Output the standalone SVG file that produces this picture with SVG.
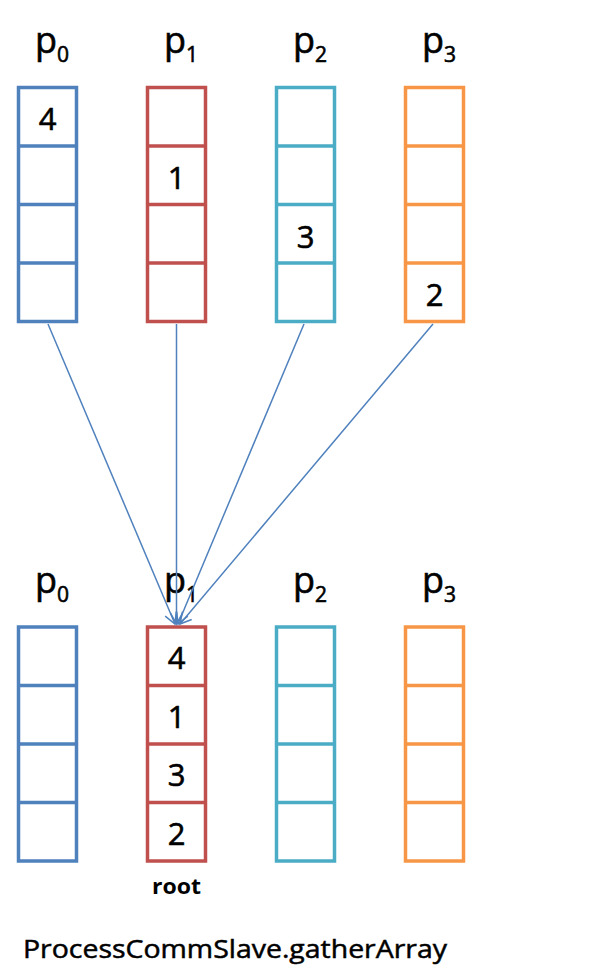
<svg xmlns="http://www.w3.org/2000/svg" width="605" height="976" viewBox="0 0 605 976">
<defs>
<style>
.lbl{font-family:"Open Sans","Liberation Sans",Arial,sans-serif;font-size:36px;fill:#000;stroke:#000;stroke-width:0.6}
.sub{font-size:21px}
.num{font-family:"Open Sans","Liberation Sans",Arial,sans-serif;font-size:31px;fill:#000;stroke:#000;stroke-width:0.6;text-anchor:middle}
.cell{fill:#fff;stroke-width:3.5}
.b{stroke:#4F81BD}.r{stroke:#C0504D}.t{stroke:#4BACC6}.o{stroke:#F79646}
.conn{stroke:#4F81BD;stroke-width:1.5;fill:none}
</style>
<marker id="arr" markerWidth="14" markerHeight="14" refX="12" refY="7" orient="auto" markerUnits="userSpaceOnUse">
<path d="M1,1 L12,7 L1,13" fill="none" stroke="#4F81BD" stroke-width="1.5"/>
</marker>
</defs>
<rect width="605" height="976" fill="#fff"/>

<g id="top-p0">
<text class="lbl" x="35" y="53">p<tspan class="sub" dy="9">0</tspan></text>
<rect class="cell b" x="18.5" y="87.5" width="58" height="234"/>
<path class="b" d="M18.5,146 H76.5 M18.5,204.5 H76.5 M18.5,263 H76.5" stroke-width="3.5"/>
<text class="num" x="47.5" y="130">4</text>
</g>
<g id="top-p1">
<text class="lbl" x="164" y="53">p<tspan class="sub" dy="9">1</tspan></text>
<rect class="cell r" x="147.5" y="87.5" width="58" height="234"/>
<path class="r" d="M147.5,146 H205.5 M147.5,204.5 H205.5 M147.5,263 H205.5" stroke-width="3.5"/>
<text class="num" x="176.5" y="189">1</text>
</g>
<g id="top-p2">
<text class="lbl" x="293" y="53">p<tspan class="sub" dy="9">2</tspan></text>
<rect class="cell t" x="276.5" y="87.5" width="58" height="234"/>
<path class="t" d="M276.5,146 H334.5 M276.5,204.5 H334.5 M276.5,263 H334.5" stroke-width="3.5"/>
<text class="num" x="305.5" y="248">3</text>
</g>
<g id="top-p3">
<text class="lbl" x="422" y="53">p<tspan class="sub" dy="9">3</tspan></text>
<rect class="cell o" x="405.5" y="87.5" width="58" height="234"/>
<path class="o" d="M405.5,146 H463.5 M405.5,204.5 H463.5 M405.5,263 H463.5" stroke-width="3.5"/>
<text class="num" x="434.5" y="306">2</text>
</g>

<g id="bot-p0">
<text class="lbl" x="35" y="593">p<tspan class="sub" dy="9">0</tspan></text>
<rect class="cell b" x="18.5" y="627" width="58" height="234"/>
<path class="b" d="M18.5,685.5 H76.5 M18.5,744 H76.5 M18.5,802.5 H76.5" stroke-width="3.5"/>
</g>
<g id="bot-p1">
<text class="lbl" x="164" y="593">p<tspan class="sub" dy="9">1</tspan></text>
<rect class="cell r" x="147.5" y="627" width="58" height="234"/>
<path class="r" d="M147.5,685.5 H205.5 M147.5,744 H205.5 M147.5,802.5 H205.5" stroke-width="3.5"/>
<text class="num" x="176.5" y="669">4</text>
<text class="num" x="176.5" y="728">1</text>
<text class="num" x="176.5" y="786">3</text>
<text class="num" x="176.5" y="845">2</text>
<text x="152" y="894" font-family="'Open Sans','Liberation Sans',Arial,sans-serif" font-size="22" font-weight="bold" textLength="49" lengthAdjust="spacingAndGlyphs">root</text>
</g>
<g id="bot-p2">
<text class="lbl" x="293" y="593">p<tspan class="sub" dy="9">2</tspan></text>
<rect class="cell t" x="276.5" y="627" width="58" height="234"/>
<path class="t" d="M276.5,685.5 H334.5 M276.5,744 H334.5 M276.5,802.5 H334.5" stroke-width="3.5"/>
</g>
<g id="bot-p3">
<text class="lbl" x="422" y="593">p<tspan class="sub" dy="9">3</tspan></text>
<rect class="cell o" x="405.5" y="627" width="58" height="234"/>
<path class="o" d="M405.5,685.5 H463.5 M405.5,744 H463.5 M405.5,802.5 H463.5" stroke-width="3.5"/>
</g>

<g id="connectors">
<line class="conn" x1="48" y1="324" x2="175" y2="624" marker-end="url(#arr)"/>
<line class="conn" x1="176.5" y1="324" x2="176.5" y2="624" marker-end="url(#arr)"/>
<line class="conn" x1="304" y1="324" x2="178" y2="624" marker-end="url(#arr)"/>
<line class="conn" x1="433" y1="324" x2="180" y2="624" marker-end="url(#arr)"/>
</g>

<text x="23" y="958" font-family="'Open Sans','Liberation Sans',Arial,sans-serif" font-size="26" stroke="#000" stroke-width="0.5" textLength="424" lengthAdjust="spacingAndGlyphs">ProcessCommSlave.gatherArray</text>
</svg>
